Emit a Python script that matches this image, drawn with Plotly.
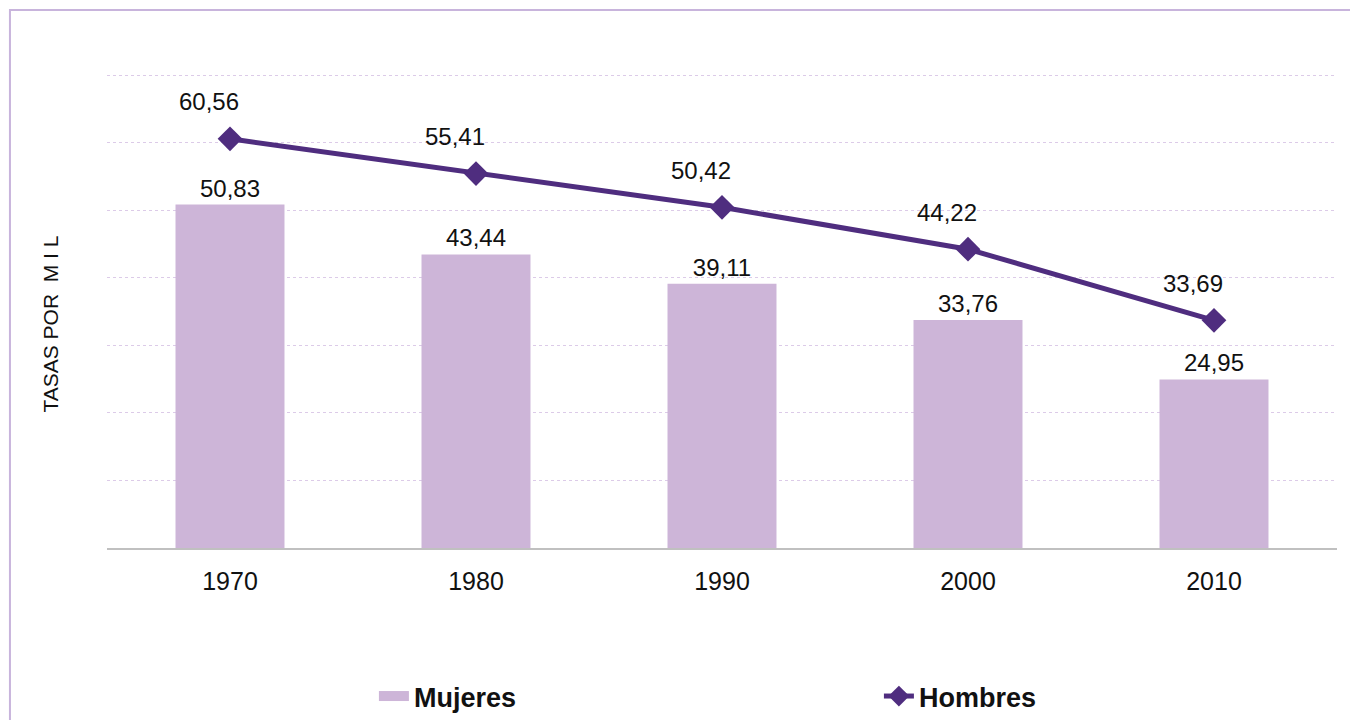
import plotly.graph_objects as go

years = ["1970", "1980", "1990", "2000", "2010"]
mujeres = [50.83, 43.44, 39.11, 33.76, 24.95]
hombres = [60.56, 55.41, 50.42, 44.22, 33.69]
y_ticks = [0, 10, 20, 30, 40, 50, 60, 70]

def fmt(v):
    return f"{v:.2f}".replace(".", ",")

BAR_COLOR = "#cdb5d8"
LINE_COLOR = "#4f2d7f"
FONT = "Liberation Sans, Arial, sans-serif"

fig = go.Figure()

fig.add_trace(go.Bar(
    x=years, y=mujeres, name="Mujeres", showlegend=False,
    marker=dict(color=BAR_COLOR, line=dict(width=0)),
    width=0.443,
    text=[fmt(v) for v in mujeres], textposition="outside",
    textfont=dict(family=FONT, size=24, color="#111111"),
    cliponaxis=False,
))
# legend proxy for the bar series (wide swatch)
fig.add_trace(go.Scatter(
    x=years[:1], y=[None], mode="lines", name="Mujeres",
    line=dict(color=BAR_COLOR, width=11), legendwidth=460,
))
fig.add_trace(go.Scatter(
    x=years, y=hombres, mode="lines+markers", name="Hombres",
    line=dict(color=LINE_COLOR, width=5),
    marker=dict(symbol="diamond", size=19, color=LINE_COLOR),
    cliponaxis=False, legendwidth=120,
))

annotations = [
    dict(x=i, y=v, xref="x", yref="y", text=fmt(v), showarrow=False,
         yshift=37, xshift=-21, font=dict(family=FONT, size=24, color="#111111"))
    for i, v in enumerate(hombres)
]
annotations.append(dict(
    x=-0.0459, y=0.4716, xref="paper", yref="paper", text="TASAS POR&nbsp; M I L",
    textangle=-90, showarrow=False, xanchor="center", yanchor="middle",
    font=dict(family=FONT, size=21, color="#111111"),
))

fig.update_layout(
    width=1350, height=740,
    margin=dict(l=99, r=21, t=65, b=200),
    paper_bgcolor="white", plot_bgcolor="white",
    font=dict(family=FONT, color="#111111"),
    bargap=0.557,
    xaxis=dict(
        type="category", range=[-0.5, 4.5], autorange=False,
        showgrid=False, showline=True, linecolor="#c0c0c0",
        linewidth=2, ticks="", tickfont=dict(size=25, color="#111111"),
        ticklabelstandoff=10,
    ),
    yaxis=dict(
        range=[0, 70.3], autorange=False, tickvals=y_ticks, showticklabels=False,
        showgrid=True, gridcolor="#dccbe8", griddash="dot", gridwidth=1,
        zeroline=False, showline=False,
    ),
    legend=dict(
        orientation="h", x=0.217, xanchor="left", y=-0.3126, yanchor="middle",
        entrywidthmode="pixels",
        font=dict(family=FONT, size=27, color="#111111", weight="bold"),
        itemwidth=30,
    ),
    annotations=annotations,
    shapes=[dict(
        type="rect", xref="paper", yref="paper",
        x0=-0.0789, x1=1.05, y0=-0.5, y1=1.1326,
        line=dict(color="#c8b4dc", width=2), fillcolor="rgba(0,0,0,0)",
        layer="above",
    )],
)

fig.write_html("out.html")
